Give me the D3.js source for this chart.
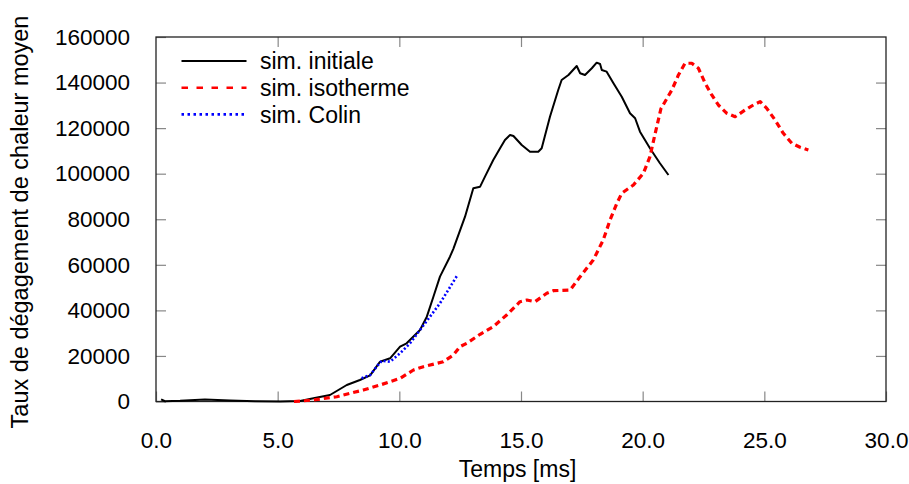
<!DOCTYPE html>
<html>
<head>
    <meta charset="utf-8" />
    <title>Taux de dégagement de chaleur moyen</title>
    <script src="https://cdn.jsdelivr.net/npm/d3@7"></script>
    <style>
        body {
            padding: 0;
            margin: 0;
            background: #fff;
        }
        svg text {
            font-family: "Liberation Sans", Arial, sans-serif;
            fill: #000;
        }
        .axis path {
            display: none;
        }
        .axis line {
            stroke: #888;
            stroke-width: 1.2px;
        }
        .axis text {
            font-size: 22.5px;
        }
        .frame {
            fill: none;
            stroke: #222;
            stroke-width: 1.3px;
        }
    </style>
</head>
<body>
<svg id="chart" width="909" height="484"></svg>
<script>

// x ticks [ms], y ticks
var xTicks = [0, 5, 10, 15, 20, 25, 30];
var yTicks = [0, 20000, 40000, 60000, 80000, 100000, 120000, 140000, 160000];

// sim. initiale (time ms, value)
var initialeT = [0.21, 0.37, 0.99, 2.01, 3.04, 4.07, 5.10, 5.92, 6.47, 7.15, 7.84, 8.38, 8.80, 9.21,
  9.62, 10.03, 10.30, 10.85, 11.13, 11.40, 11.67, 12.08, 12.22, 12.70, 13.04, 13.32, 13.52, 13.86,
  14.14, 14.34, 14.55, 14.69, 15.03, 15.37, 15.71, 15.85, 16.19, 16.53, 16.67, 16.95, 17.29, 17.43,
  17.63, 17.91, 18.11, 18.25, 18.32, 18.52, 18.80, 19.14, 19.48, 19.69, 19.89, 20.30, 20.71, 21.06];
var initialeV = [900, 100, 300, 900, 400, 100, 0, 200, 1400, 2850, 7240, 9440, 11500, 17470,
  18960, 24060, 25550, 31390, 37230, 46000, 54800, 63570, 67000, 81130, 93590, 94300, 98700, 106000,
  111150, 114800, 117000, 116550, 112600, 109660, 109660, 111150, 125000, 136750, 141140, 143330, 147280, 144080,
  143330, 146270, 148730, 148160, 145530, 144780, 139690, 133800, 126520, 124330, 118440, 111150, 104570, 99430];

// sim. isotherme
var isothermeT = [5.67, 6.47, 7.43, 8.52, 9.21, 10.03, 10.58, 10.99, 11.81, 12.22, 12.49, 12.77, 13.32,
  13.86, 14.41, 14.96, 15.24, 15.58, 16.06, 16.33, 17.02, 17.43, 17.97, 18.38, 18.66, 18.94, 19.14,
  19.62, 20.03, 20.30, 20.50, 20.75, 21.20, 21.47, 21.74, 22.02, 22.29, 22.57, 22.84, 23.11, 23.46,
  23.80, 24.21, 24.55, 24.83, 25.10, 25.44, 25.78, 26.13, 26.47, 26.81];
var isothermeV = [0, 660, 2100, 5050, 7240, 10190, 13830, 15280, 17470, 20410, 24060, 25550, 29500,
  32840, 37970, 43810, 44560, 43810, 47500, 48640, 48950, 54800, 62120, 70900, 79680, 87000, 91390,
  95040, 100180, 107500, 117000, 128500, 136750, 143330, 148470, 148470, 146270, 139690, 134550, 130160, 126520,
  125000, 127970, 130160, 131610, 128700, 123580, 117730, 113340, 111590, 110400];

// sim. Colin
var colinT = [8.45, 8.80, 9.07, 9.28, 9.62, 10.03, 10.44, 10.85, 11.26, 11.67, 12.01, 12.39];
var colinV = [10190, 11630, 15280, 17900, 17470, 21160, 25550, 31390, 37230, 43110, 48950, 55530];

var seriesNames = ["sim. initiale", "sim. isotherme", "sim. Colin"];

var series = [
  { name: seriesNames[0], t: initialeT, v: initialeV, color: "#000000", width: 2, dash: null, legendDash: null },
  { name: seriesNames[1], t: isothermeT, v: isothermeV, color: "#ff0000", width: 3.2, dash: "6,4", legendDash: "6.5,8.5" },
  { name: seriesNames[2], t: colinT, v: colinV, color: "#0000ff", width: 2.6, dash: "2,2.2", legendDash: "2.5,3.5" }
];

var svg = d3.select("#chart");
var margin = { left: 156, right: 23, top: 37, bottom: 82.5 };
var width = 909 - margin.left - margin.right;
var height = 484 - margin.top - margin.bottom;

var x = d3.scaleLinear().domain([0, 30]).range([0, width]);
var y = d3.scaleLinear().domain([0, 160000]).range([height, 0]);

var g = svg.append("g")
    .attr("transform", "translate(" + margin.left + "," + margin.top + ")");

// axes, ticks pointing inward
g.append("g")
    .attr("class", "axis")
    .attr("transform", "translate(0," + height + ")")
    .call(d3.axisBottom(x).tickValues(xTicks).tickFormat(d3.format(".1f"))
        .tickSizeInner(-10).tickSizeOuter(0).tickPadding(31));
g.append("g")
    .attr("class", "axis")
    .call(d3.axisTop(x).tickValues(xTicks.slice(1, -1)).tickFormat("")
        .tickSizeInner(-10).tickSizeOuter(0));
g.append("g")
    .attr("class", "axis")
    .call(d3.axisLeft(y).tickValues(yTicks).tickFormat(d3.format("d"))
        .tickSizeInner(-10).tickSizeOuter(0).tickPadding(26));
g.append("g")
    .attr("class", "axis")
    .attr("transform", "translate(" + width + ",0)")
    .call(d3.axisRight(y).tickValues(yTicks.slice(1, -1)).tickFormat("")
        .tickSizeInner(-10).tickSizeOuter(0));

g.append("rect")
    .attr("class", "frame")
    .attr("width", width)
    .attr("height", height);

// curves
var line = d3.line()
    .x(function(d) { return x(d[0]); })
    .y(function(d) { return y(d[1]); });

series.forEach(function(s) {
  var pts = s.t.map(function(t, i) { return [t, s.v[i]]; });
  g.append("path")
      .datum(pts)
      .attr("fill", "none")
      .attr("stroke", s.color)
      .attr("stroke-width", s.width)
      .attr("stroke-linejoin", "round")
      .attr("stroke-dasharray", s.dash)
      .attr("d", line);
});

// legend
var legend = g.append("g")
    .attr("transform", "translate(25.5,24)");
series.forEach(function(s, i) {
  var row = legend.append("g").attr("transform", "translate(0," + (i * 26.7) + ")");
  row.append("line")
      .attr("x1", 0).attr("x2", 65)
      .attr("stroke", s.color)
      .attr("stroke-width", s.width === 2 ? 2 : 2.6)
      .attr("stroke-dasharray", s.legendDash);
  row.append("text")
      .attr("x", 78.5)
      .attr("y", 8.3)
      .style("font-size", "23px")
      .text(s.name);
});

// axis titles
svg.append("text")
    .attr("x", 517.5)
    .attr("y", 477)
    .attr("text-anchor", "middle")
    .style("font-size", "23px")
    .text("Temps [ms]");
svg.append("text")
    .attr("transform", "translate(28,222) rotate(-90)")
    .attr("text-anchor", "middle")
    .style("font-size", "23.5px")
    .text("Taux de dégagement de chaleur moyen");

</script>
</body>
</html>
